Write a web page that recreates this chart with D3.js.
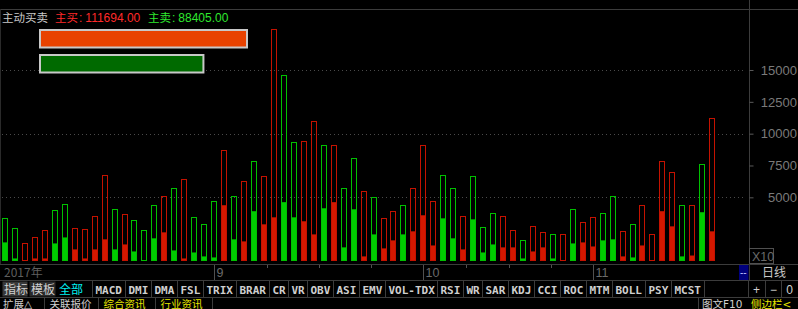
<!DOCTYPE html>
<html>
<head>
<meta charset="utf-8">
<script src="https://cdn.jsdelivr.net/npm/d3@7.9.0/dist/d3.min.js"></script>
<style>
  html, body { margin: 0; padding: 0; background: #000; }
  svg { display: block; }
  text { font-family: "Liberation Sans", Arial, sans-serif; }
  .cjk { font-family: "Noto Sans CJK SC", sans-serif; }
  .cjk2 { font-family: "DejaVu Sans", "Noto Sans CJK SC", sans-serif; }
  .mono { font-family: "DejaVu Sans Mono", monospace; }
</style>
</head>
<body>
<svg id="chart" width="798" height="309"></svg>
<script>
// total volume per day (outline) and active part (filled), x10
const totalVol = [3410,2620,1440,1910,2460,4040,4510,2620,2540,3570,6720,4120,3720,3250,2460,4360,5070,5700,6410,3490,
  2880,4750,8690,5140,6250,7830,6640,18240,14610,9330,9400,10980,9090,9090,5700,8060,5460,4990,3410,3960,
  4360,5700,9090,4750,6720,5700,3570,6640,2700,3800,3570,2460,1670,2780,2300,2150,2150,4120,3090,3490,
  3800,5070,2380,2940,4430,2150,7830,6960,4360,4360,7590,11220];
const activeVol = [1460,200,0,200,200,1380,1850,910,200,910,1700,910,1300,750,0,1780,2250,830,200,670,
  360,280,4380,1700,1540,3910,2880,3430,4620,3430,3120,2090,4140,4620,1070,4060,360,2090,990,1620,
  2090,2330,3590,1220,3350,1780,910,3270,670,1300,1070,1070,200,750,1070,200,0,1380,1460,1140,
  1620,1700,360,280,1220,0,3910,2720,360,430,3830,2330];
// r = buy side (red), g = sell side (green)
const side = ('ggrrrggrrrrgrgggrgrg' + 'ggrgrgrrggrrgrggrgrr' +
  'grrrggrgggrrgrrgrgrr' + 'ggrgrrrrgrgr').split('');

const yTicks = [5000, 7500, 10000, 12500, 15000];
const gridTicks = [5000, 10000, 15000];
const months = [{ label: '9', i: 21 }, { label: '10', i: 42 }, { label: '11', i: 59 }];
const yearLabel = '2017年';

const buyTotal = 111694.00;
const sellTotal = 88405.00;

const tabsCn = ['指标', '模板', '全部'];
const tabs = ['MACD','DMI','DMA','FSL','TRIX','BRAR','CR','VR','OBV','ASI','EMV','VOL-TDX',
  'RSI','WR','SAR','KDJ','CCI','ROC','MTM','BOLL','PSY','MCST'];
const bottomTabs = ['扩展△', '关联报价', '综合资讯', '行业资讯'];

const W = 798, H = 309;
const axisX = 749.5;
const lineCol = '#3c3c3c';
const RED = '#d41800', RED_LINE = '#c41200';
const GREEN = '#00cc00', GREEN_LINE = '#00c000';

const svg = d3.select('#chart');
svg.append('rect').attr('width', W).attr('height', H).attr('fill', '#000');

const x = d3.scaleBand()
  .domain(d3.range(totalVol.length))
  .range([2, 715.5])
  .paddingInner(0.37)
  .paddingOuter(0);
const bw = Math.round(x.bandwidth());

const y = d3.scaleLinear().domain([0, 19790]).range([261, 9]);

// frame lines
svg.append('line').attr('x1', 0).attr('x2', W).attr('y1', 9.5).attr('y2', 9.5).attr('stroke', lineCol);
svg.append('line').attr('x1', 0.5).attr('x2', 0.5).attr('y1', 9).attr('y2', 264).attr('stroke', '#2a2a2a');
svg.append('line').attr('x1', axisX).attr('x2', axisX).attr('y1', 0).attr('y2', 281).attr('stroke', lineCol);

// dotted grid
svg.append('g').selectAll('line')
  .data(gridTicks)
  .join('line')
  .attr('x1', 2).attr('x2', 746)
  .attr('y1', d => Math.round(y(d)) + 0.5)
  .attr('y2', d => Math.round(y(d)) + 0.5)
  .attr('stroke', '#4a4a4a')
  .attr('stroke-dasharray', '1,3');

// right axis
const yAxis = d3.axisRight(y).tickValues(yTicks).tickSize(4).tickFormat(d3.format('d'));
const gy = svg.append('g').attr('transform', `translate(${axisX},0)`).call(yAxis);
gy.select('.domain').remove();
gy.selectAll('.tick line').attr('stroke', '#5a5a5a');
gy.selectAll('.tick text')
  .attr('x', 47.5)
  .attr('text-anchor', 'end')
  .attr('fill', '#7a7a7a')
  .style('font-size', '13px')
  .style('font-family', '"Liberation Sans", Arial, sans-serif');

// bars
const bars = svg.append('g').selectAll('g')
  .data(totalVol.map((v, i) => ({ i, total: v, active: activeVol[i], side: side[i] })))
  .join('g');

bars.filter(d => d.active > 0).append('rect')
  .attr('x', d => Math.round(x(d.i)))
  .attr('width', bw)
  .attr('y', d => y(d.active))
  .attr('height', d => y(0) - y(d.active))
  .attr('fill', d => d.side === 'r' ? RED : GREEN);

bars.append('rect')
  .attr('x', d => Math.round(x(d.i)) + 0.5)
  .attr('width', bw - 1)
  .attr('y', d => Math.round(y(d.total)) + 0.5)
  .attr('height', d => y(0) - Math.round(y(d.total)) - 1)
  .attr('fill', 'none')
  .attr('stroke', d => d.side === 'r' ? RED_LINE : GREEN_LINE)
  .attr('stroke-width', 1);

// title row
const title = svg.append('g');
title.append('text').attr('class', 'cjk').attr('x', 2).attr('y', 21.5)
  .attr('fill', '#c8c8c8').style('font-size', '11.5px').text('主动买卖');
const fmt = d3.format('.2f');
const t1 = title.append('text').attr('x', 55).attr('y', 21.5).style('font-size', '12px').attr('fill', '#ff2a2a');
t1.append('tspan').attr('class', 'cjk').style('font-size', '11.5px').text('主买');
t1.append('tspan').attr('dx', 1).text(':');
t1.append('tspan').attr('dx', 3).text(fmt(buyTotal));
const t2 = title.append('text').attr('x', 148).attr('y', 21.5).style('font-size', '12px').attr('fill', '#2ee82e');
t2.append('tspan').attr('class', 'cjk').style('font-size', '11.5px').text('主卖');
t2.append('tspan').attr('dx', 1).text(':');
t2.append('tspan').attr('dx', 3).text(fmt(sellTotal));

// buy / sell strength bars
const s = d3.scaleLinear().domain([0, buyTotal]).range([0, 209]);
const strength = [
  { v: buyTotal, fill: '#e84200', top: 29 },
  { v: sellTotal, fill: '#006a00', top: 54 }
];
svg.append('g').selectAll('rect')
  .data(strength)
  .join('rect')
  .attr('x', 40).attr('y', d => d.top + 1)
  .attr('width', d => s(d.v) - 2).attr('height', 17.5)
  .attr('fill', d => d.fill)
  .attr('stroke', '#c8c8c8').attr('stroke-width', 2);

// X10 box
svg.append('rect').attr('x', axisX).attr('y', 248.5).attr('width', 24).attr('height', 15)
  .attr('fill', '#000').attr('stroke', '#505050');
svg.append('text').attr('x', 752).attr('y', 260.5).attr('fill', '#6a6a6a')
  .style('font-size', '12.5px').text('X10');

// date row
svg.append('line').attr('x1', 0).attr('x2', W).attr('y1', 264.5).attr('y2', 264.5).attr('stroke', lineCol);
svg.append('line').attr('x1', 0).attr('x2', W).attr('y1', 280.5).attr('y2', 280.5).attr('stroke', lineCol);
const mx = i => Math.round(x(i) + bw / 2) + 0.5;
const dateRow = svg.append('g');
dateRow.append('text').attr('class', 'cjk').attr('x', 4).attr('y', 277).attr('fill', '#5e5e5e')
  .style('font-size', '12px').text(yearLabel);
dateRow.selectAll('line.m')
  .data(months)
  .join('line')
  .attr('class', 'm')
  .attr('x1', d => mx(d.i)).attr('x2', d => mx(d.i))
  .attr('y1', 265).attr('y2', 280)
  .attr('stroke', '#505050');
dateRow.selectAll('text.m')
  .data(months)
  .join('text')
  .attr('class', 'm')
  .attr('x', d => mx(d.i) + 2).attr('y', 277)
  .attr('fill', '#6a6a6a')
  .style('font-size', '12.5px')
  .text(d => d.label);
// quarter-month ticks between month starts
const minor = [];
for (let k = 0; k < months.length - 1; k++) {
  const a = mx(months[k].i), b = mx(months[k + 1].i);
  for (let q = 1; q < 4; q++) minor.push(Math.round(a + (b - a) * q / 4) + 0.5);
}
dateRow.selectAll('line.n')
  .data(minor)
  .join('line')
  .attr('class', 'n')
  .attr('x1', d => d).attr('x2', d => d)
  .attr('y1', 265).attr('y2', 268)
  .attr('stroke', '#505050');

svg.append('rect').attr('x', 739).attr('y', 265).attr('width', 9.5).attr('height', 15).attr('fill', '#00007e');
svg.append('text').attr('x', 740).attr('y', 276).attr('fill', '#c0c0ff').style('font-size', '10px').text('--');
svg.append('text').attr('class', 'cjk').attr('x', 762).attr('y', 277).attr('fill', '#c8c8c8')
  .style('font-size', '12px').text('日线');

// indicator tabs
const tabRow = svg.append('g');
const cnW = [27, 28, 32];
let tx = 2;
tabsCn.forEach((t, k) => {
  if (k < 2) tabRow.append('rect').attr('x', tx + 0.5).attr('y', 281.5).attr('width', cnW[k] - 2).attr('height', 15)
    .attr('fill', k === 0 ? '#383838' : '#2a2a2a');
  tabRow.append('text').attr('class', 'cjk2').attr('x', tx + 2).attr('y', 293.5)
    .attr('fill', k === 2 ? '#00f0f0' : '#d0d0d0').style('font-size', '12px').text(t);
  tx += cnW[k];
});
tx = 92.5;
tabRow.append('line').attr('x1', tx).attr('x2', tx).attr('y1', 281).attr('y2', 297).attr('stroke', lineCol);
tabs.forEach(t => {
  const txt = tabRow.append('text').attr('class', 'mono').attr('x', tx + 3).attr('y', 293.5)
    .attr('fill', '#cfcfcf').style('font-size', '11px').style('font-weight', 'bold').text(t);
  const w = Math.round(txt.node().getComputedTextLength() + 6);
  tx += w;
  tabRow.append('line').attr('x1', tx).attr('x2', tx).attr('y1', 281).attr('y2', 297).attr('stroke', lineCol);
});
svg.append('line').attr('x1', 0).attr('x2', W).attr('y1', 297.5).attr('y2', 297.5).attr('stroke', lineCol);
['+', '−', '0'].forEach((t, k) => {
  const cx = [748.5, 765.5, 781.5][k];
  tabRow.append('line').attr('x1', cx).attr('x2', cx).attr('y1', 281).attr('y2', 297).attr('stroke', lineCol);
  tabRow.append('text').attr('x', cx + 8).attr('y', 293.5).attr('text-anchor', 'middle')
    .attr('fill', '#d0d0d0').style('font-size', '12px').text(t);
});

// bottom row, kept just inside the window edge
const bRow = svg.append('g');
const bSep = [44.5, 98.5, 155.5, 212.5];
let bx = 3;
bottomTabs.forEach((t, k) => {
  bRow.append('text').attr('class', 'cjk2').attr('x', bx).attr('y', 307.5)
    .attr('fill', k >= 2 ? '#e8e800' : '#d0d0d0').style('font-size', '10.5px').text(t);
  bRow.append('line').attr('x1', bSep[k]).attr('x2', bSep[k]).attr('y1', 297).attr('y2', 309).attr('stroke', lineCol);
  bx = bSep[k] + 5;
});
bRow.append('line').attr('x1', 698.5).attr('x2', 698.5).attr('y1', 297).attr('y2', 309).attr('stroke', lineCol);
bRow.append('text').attr('class', 'cjk2').attr('x', 702).attr('y', 307.5).attr('fill', '#d0d0d0')
  .style('font-size', '10.5px').text('图文F10');
bRow.append('text').attr('class', 'cjk2').attr('x', 751).attr('y', 307.5).attr('fill', '#e8e800')
  .style('font-size', '10.5px').text('侧边栏<');
</script>
</body>
</html>
